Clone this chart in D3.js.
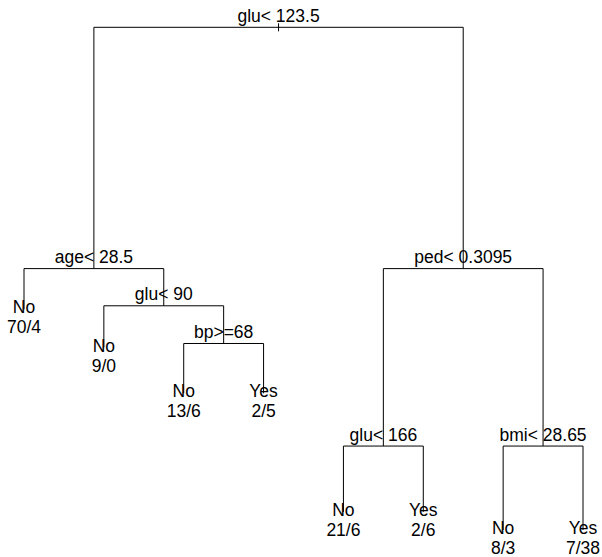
<!DOCTYPE html>
<html>
<head>
<meta charset="utf-8">
<script src="https://cdn.jsdelivr.net/npm/d3@7"></script>
<style>
  body { margin: 0; background: #fff; }
</style>
</head>
<body>
<div id="tree"></div>
<script>
// rpart-style classification tree (node numbering: children of n are 2n and 2n+1)
const nodeId     = [1, 2, 4, 5, 10, 11, 22, 23, 3, 6, 12, 13, 7, 14, 15];
const nodeLabel  = ["glu< 123.5", "age< 28.5", "No", "glu< 90", "No", "bp>=68", "No", "Yes",
                    "ped< 0.3095", "glu< 166", "No", "Yes", "bmi< 28.65", "No", "Yes"];
const nodeCounts = [null, null, "70/4", null, "9/0", null, "13/6", "2/5",
                    null, null, "21/6", "2/6", null, "8/3", "7/38"];
// vertical position of each node (relative deviance depth, 0 = root, 1 = deepest leaf)
const nodeDepth  = [0, 0.48, 0.561, 0.554, 0.637, 0.629, 0.728, 0.728,
                    0.48, 0.833, 0.964, 0.964, 0.833, 1.0, 1.0];

function drawTree() {
    let w = 602;
    let h = 557;
    const svg = d3.select("#tree")
                .append("svg")
                .attr("width", w)
                .attr("height", h);

    let nodes = nodeId.map((id, i) => {
        return {id: id, label: nodeLabel[i], counts: nodeCounts[i], depth: nodeDepth[i]};
    });
    let byId = new Map(nodes.map(d => [d.id, d]));
    nodes.forEach(d => {
        d.left = byId.get(d.id * 2);
        d.right = byId.get(d.id * 2 + 1);
        d.parent = byId.get(Math.floor(d.id / 2));
        d.leaf = !d.left;
    });

    // leaves get 1..n from left to right, internal nodes sit midway between children
    let leafCount = 0;
    function placeX(d) {
        if (d.leaf) { d.xi = ++leafCount; return d.xi; }
        d.xi = (placeX(d.left) + placeX(d.right)) / 2;
        return d.xi;
    }
    placeX(byId.get(1));

    let xScale = d3.scaleLinear()
                    .domain([1, leafCount])
                    .range([24, 583]);
    let yScale = d3.scaleLinear()
                    .domain([0, 1])
                    .range([27.3, 530]);

    const lines = svg.append("g")
                .attr("stroke", "#000")
                .attr("stroke-width", 1);

    // vertical branches
    lines.selectAll("line.v")
        .data(nodes.filter(d => d.parent))
        .enter()
        .append("line")
        .attr("class", "v")
        .attr("x1", d => xScale(d.xi))
        .attr("x2", d => xScale(d.xi))
        .attr("y1", d => yScale(d.parent.depth))
        .attr("y2", d => yScale(d.depth));

    // horizontal splits
    lines.selectAll("line.h")
        .data(nodes.filter(d => !d.leaf))
        .enter()
        .append("line")
        .attr("class", "h")
        .attr("x1", d => xScale(d.left.xi))
        .attr("x2", d => xScale(d.right.xi))
        .attr("y1", d => yScale(d.depth))
        .attr("y2", d => yScale(d.depth));

    // small stem on the root
    let root = byId.get(1);
    lines.append("line")
        .attr("x1", xScale(root.xi))
        .attr("x2", xScale(root.xi))
        .attr("y1", yScale(root.depth) - 4)
        .attr("y2", yScale(root.depth) + 4);

    const labels = svg.append("g")
                .attr("font-family", "'Liberation Sans', Arial, Helvetica, sans-serif")
                .attr("font-size", "17.5px")
                .attr("fill", "#000")
                .attr("text-anchor", "middle");

    labels.selectAll("text.split")
        .data(nodes.filter(d => !d.leaf))
        .enter()
        .append("text")
        .attr("class", "split")
        .attr("x", d => xScale(d.xi))
        .attr("y", d => yScale(d.depth) - 5.5)
        .text(d => d.label);

    labels.selectAll("text.leaf")
        .data(nodes.filter(d => d.leaf))
        .enter()
        .append("text")
        .attr("class", "leaf")
        .attr("x", d => xScale(d.xi))
        .attr("y", d => yScale(d.depth) + 4)
        .text(d => d.label);

    labels.selectAll("text.counts")
        .data(nodes.filter(d => d.leaf))
        .enter()
        .append("text")
        .attr("class", "counts")
        .attr("x", d => xScale(d.xi))
        .attr("y", d => yScale(d.depth) + 24)
        .text(d => d.counts);
}
drawTree();
</script>
</body>
</html>
